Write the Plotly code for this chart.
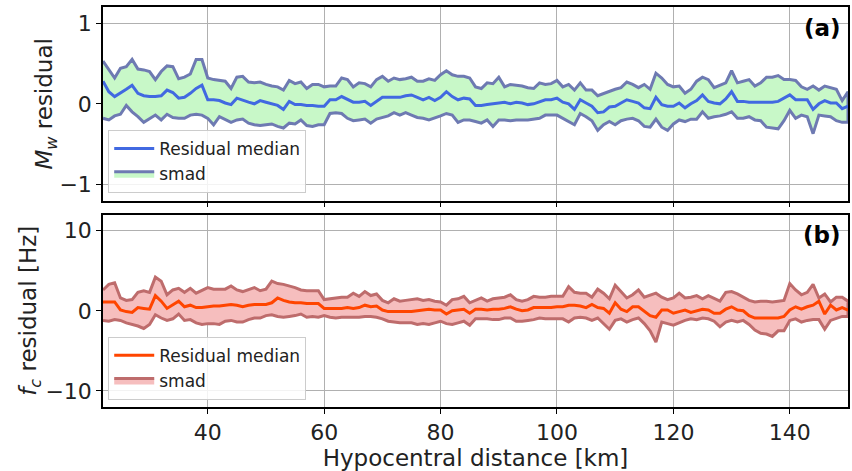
import plotly.graph_objects as go

distance_km = list(range(22, 151))

mw_upper = [0.53,0.42,0.32,0.44,0.46,0.55,0.43,0.42,0.40,0.30,0.40,0.47,0.46,0.31,0.33,0.37,0.55,0.55,0.32,0.30,0.29,0.28,0.19,0.33,0.34,0.27,0.26,0.27,0.24,0.22,0.21,0.17,0.29,0.25,0.27,0.19,0.24,0.24,0.21,0.22,0.22,
            0.32,0.30,0.21,0.26,0.25,0.21,0.30,0.34,0.28,0.32,0.30,0.31,0.33,0.28,0.28,0.31,0.29,0.36,0.41,0.36,0.34,0.34,0.32,0.21,0.19,0.26,0.25,0.33,0.21,0.24,0.23,0.22,0.20,0.19,0.26,0.24,0.25,0.29,0.21,0.24,0.17,
            0.26,0.17,0.17,0.10,0.13,0.16,0.18,0.20,0.27,0.24,0.20,0.24,0.18,0.38,0.32,0.24,0.21,0.22,0.13,0.18,0.28,0.33,0.30,0.20,0.23,0.26,0.41,0.26,0.28,0.30,0.22,0.26,0.33,0.33,0.35,0.30,0.30,0.29,0.21,0.18,0.22,0.17,0.22,0.20,0.18,0.04,0.15]
mw_median = [0.28,0.15,0.09,0.13,0.18,0.23,0.13,0.10,0.09,0.09,0.10,0.17,0.14,0.07,0.08,0.13,0.19,0.23,0.05,0.05,0.04,0.01,-0.01,0.07,0.04,0.02,0.00,0.04,0.02,0.00,-0.02,-0.07,0.03,-0.01,-0.01,-0.02,-0.02,-0.03,-0.03,0.05,0.05,
             0.09,0.05,0.02,0.02,0.03,-0.02,0.03,0.08,0.08,0.08,0.08,0.10,0.11,0.08,0.05,0.08,0.04,0.08,0.15,0.09,0.05,0.07,0.06,-0.02,-0.02,-0.01,0.00,0.01,0.02,0.00,0.02,0.01,-0.01,0.00,0.03,0.05,0.05,0.07,0.02,0.00,-0.07,
             0.05,0.01,-0.03,-0.11,-0.10,-0.04,-0.03,0.01,0.05,0.03,0.01,-0.05,-0.06,0.08,-0.01,-0.03,-0.03,0.01,-0.05,0.00,0.04,0.11,0.03,0.01,0.00,0.06,0.15,0.03,0.03,0.02,0.02,0.02,0.02,0.02,0.03,0.07,0.11,0.05,0.05,0.05,-0.07,0.00,0.04,0.01,0.01,-0.06,-0.03]
mw_lower = [-0.18,-0.20,-0.15,-0.13,-0.02,-0.10,-0.16,-0.23,-0.19,-0.14,-0.20,-0.13,-0.17,-0.18,-0.18,-0.14,-0.13,-0.14,-0.18,-0.26,-0.16,-0.20,-0.23,-0.20,-0.19,-0.24,-0.26,-0.27,-0.26,-0.25,-0.28,-0.30,-0.24,-0.25,-0.20,-0.27,-0.28,-0.26,-0.26,-0.12,-0.11,
            -0.12,-0.18,-0.21,-0.20,-0.19,-0.24,-0.19,-0.17,-0.15,-0.11,-0.14,-0.11,-0.14,-0.17,-0.18,-0.20,-0.18,-0.15,-0.12,-0.14,-0.23,-0.20,-0.20,-0.22,-0.24,-0.20,-0.28,-0.20,-0.20,-0.21,-0.20,-0.20,-0.20,-0.19,-0.18,-0.14,-0.14,-0.14,-0.18,-0.22,-0.26,
            -0.12,-0.16,-0.21,-0.33,-0.26,-0.22,-0.26,-0.21,-0.19,-0.18,-0.21,-0.28,-0.29,-0.19,-0.29,-0.33,-0.25,-0.20,-0.22,-0.19,-0.19,-0.10,-0.18,-0.16,-0.15,-0.13,-0.10,-0.18,-0.18,-0.16,-0.20,-0.21,-0.29,-0.30,-0.31,-0.21,-0.08,-0.18,-0.14,-0.16,-0.37,-0.14,-0.15,-0.16,-0.21,-0.23,-0.23]

fc_upper = [2.6,3.3,3.5,1.6,1.3,1.4,2.3,2.5,2.3,4.2,3.7,2.0,2.6,2.8,2.3,2.8,2.2,2.6,2.9,2.7,2.7,2.7,3.1,2.6,2.4,2.7,2.9,2.5,2.7,3.7,3.4,3.3,3.1,2.9,2.6,2.5,2.5,2.5,1.4,1.5,1.6,
            1.7,1.7,2.2,1.8,2.4,1.9,2.1,1.3,1.0,1.5,1.2,1.3,1.4,1.5,1.3,1.4,1.2,1.1,0.7,1.4,1.5,1.8,1.0,1.3,1.6,1.2,1.5,1.6,1.7,2.0,1.4,1.2,1.4,1.8,1.7,1.7,1.8,1.8,1.8,3.0,2.3,
            2.2,2.2,1.7,2.7,2.2,1.5,3.2,2.4,1.6,2.0,2.6,1.7,2.0,2.2,1.7,1.4,1.6,2.2,1.6,1.7,1.9,1.5,1.9,1.6,1.2,2.3,2.4,2.1,1.7,1.3,1.1,1.2,1.2,1.1,1.2,1.3,3.4,2.6,2.0,2.3,3.3,1.6,2.1,1.1,1.7,1.7,1.2]
fc_median = [1.1,1.1,1.1,0.1,-0.1,-0.2,0.4,0.3,0.2,1.9,1.2,0.3,0.7,1.2,0.5,0.7,0.4,0.4,0.5,0.6,0.6,0.7,0.8,0.7,0.5,0.7,0.8,0.8,0.8,1.0,1.6,1.3,1.1,1.0,1.0,0.9,0.9,0.9,0.3,0.3,0.3,
             0.3,0.4,0.3,0.4,0.7,0.5,0.6,0.1,-0.1,-0.1,-0.1,-0.1,-0.1,0.0,0.1,0.2,0.1,0.1,-0.4,0.0,0.1,0.2,-0.3,0.2,0.2,0.1,0.2,0.2,0.3,0.5,0.2,0.0,0.1,0.4,0.4,0.4,0.4,0.5,0.5,0.7,0.7,
             0.6,0.4,0.8,0.4,0.3,-0.3,1.0,0.2,-0.1,0.5,0.5,0.0,-0.6,-0.8,0.1,0.1,-0.3,-0.1,0.1,-0.2,0.0,0.2,0.1,-0.3,-0.3,0.2,0.5,0.1,0.0,-0.6,-0.9,-0.9,-0.9,-0.9,-0.9,-0.7,0.1,0.5,0.2,0.5,0.7,1.2,-0.4,0.7,0.1,0.4,0.1]
fc_lower = [-1.2,-1.3,-1.1,-1.2,-1.5,-1.7,-1.9,-2.2,-1.7,-0.5,-0.9,-1.2,-1.0,-0.4,-1.2,-1.1,-1.5,-1.7,-1.6,-1.6,-1.7,-1.3,-1.2,-1.4,-1.4,-1.1,-0.9,-0.9,-0.6,-0.5,-0.7,-0.8,-0.7,-0.6,-0.4,-0.8,-0.7,-0.8,-0.6,-0.8,-0.9,
            -0.8,-0.8,-0.8,-0.8,-0.7,-0.7,-0.8,-1.0,-1.3,-1.4,-1.5,-1.5,-1.5,-1.7,-1.6,-1.7,-1.5,-1.3,-1.6,-1.7,-1.5,-1.3,-1.8,-1.0,-1.0,-1.0,-1.1,-1.1,-0.9,-0.9,-1.3,-1.3,-1.2,-1.1,-0.9,-1.0,-1.0,-1.0,-1.0,-1.4,-0.9,
            -0.8,-0.9,-1.2,-0.9,-1.6,-2.3,-1.2,-1.0,-1.4,-1.1,-0.9,-1.6,-2.5,-3.9,-1.4,-1.6,-1.8,-1.5,-1.2,-1.0,-1.1,-0.9,-1.0,-1.3,-2.0,-1.4,-1.2,-1.4,-1.2,-1.7,-2.4,-2.8,-2.9,-3.2,-2.5,-2.5,-1.2,-1.0,-1.4,-1.2,-1.1,-1.1,-2.3,-1.2,-1.0,-0.7,-0.7]

x_ticks = [40, 60, 80, 100, 120, 140]

FONT = "DejaVu Sans"
fig = go.Figure()

def band(xs, lo, hi, fill, edge, xa, ya, leg):
    poly_x = list(xs) + list(xs)[::-1]
    poly_y = list(hi) + list(lo)[::-1]
    return go.Scatter(x=poly_x, y=poly_y, fill="toself", fillcolor=fill,
                      mode="lines", line=dict(color=edge, width=3),
                      name="smad", xaxis=xa, yaxis=ya, legend=leg)

fig.add_trace(band(distance_km, mw_lower, mw_upper, "rgb(200,248,200)", "rgb(110,122,178)", "x", "y", "legend"))
fig.add_trace(go.Scatter(x=distance_km, y=mw_median, mode="lines", line=dict(color="#4169e1", width=3),
                         name="Residual median", xaxis="x", yaxis="y", legend="legend"))
fig.add_trace(band(distance_km, fc_lower, fc_upper, "rgb(246,190,190)", "rgb(190,108,108)", "x2", "y2", "legend2"))
fig.add_trace(go.Scatter(x=distance_km, y=fc_median, mode="lines", line=dict(color="#ff4500", width=3),
                         name="Residual median", xaxis="x2", yaxis="y2", legend="legend2"))

axis_common = dict(showgrid=True, gridcolor="#b0b0b0", gridwidth=1, showline=True, linecolor="black",
                   linewidth=1.5, mirror=True, ticks="outside", ticklen=5, tickcolor="black",
                   tickfont=dict(family=FONT, size=22, color="#222"), zeroline=False)

fig.update_layout(
    width=852, height=471,
    margin=dict(l=103, r=2, t=7, b=64),
    plot_bgcolor="white", paper_bgcolor="white",
    font=dict(family=FONT, color="#222"),
    xaxis=dict(domain=[0, 1], range=[22, 150], tickvals=x_ticks, showticklabels=False, anchor="y", **axis_common),
    yaxis=dict(domain=[0.516, 1], range=[-1.2, 1.2], tickvals=[-1, 0, 1], anchor="x",
               title=dict(text="<i>M</i><sub><i>w</i></sub> residual", font=dict(family=FONT, size=23), standoff=0),
               **axis_common),
    xaxis2=dict(domain=[0, 1], range=[22, 150], tickvals=x_ticks, anchor="y2",
                title=dict(text="Hypocentral distance [km]", font=dict(family=FONT, size=23), standoff=4),
                **axis_common),
    yaxis2=dict(domain=[0, 0.481], range=[-12, 12], tickvals=[-10, 0, 10], anchor="x2",
                title=dict(text="<i>f</i><sub><i>c</i></sub> residual [Hz]", font=dict(family=FONT, size=23), standoff=2),
                **axis_common),
    legend=dict(x=0.007, y=0.535, xanchor="left", yanchor="bottom", traceorder="reversed",
                bgcolor="rgba(255,255,255,0.85)", bordercolor="#cccccc", borderwidth=1,
                font=dict(family=FONT, size=17), itemwidth=40),
    legend2=dict(x=0.007, y=0.018, xanchor="left", yanchor="bottom", traceorder="reversed",
                 bgcolor="rgba(255,255,255,0.85)", bordercolor="#cccccc", borderwidth=1,
                 font=dict(family=FONT, size=17), itemwidth=40),
    showlegend=True,
    annotations=[
        dict(text="<b>(a)</b>", xref="x domain", yref="y domain", x=0.993, y=0.97,
             xanchor="right", yanchor="top", showarrow=False, font=dict(family=FONT, size=23, color="black")),
        dict(text="<b>(b)</b>", xref="x2 domain", yref="y2 domain", x=0.993, y=0.97,
             xanchor="right", yanchor="top", showarrow=False, font=dict(family=FONT, size=23, color="black")),
    ],
)

fig.write_html("out.html", post_script="document.body.style.margin='0';",
               config={"displayModeBar": False})
